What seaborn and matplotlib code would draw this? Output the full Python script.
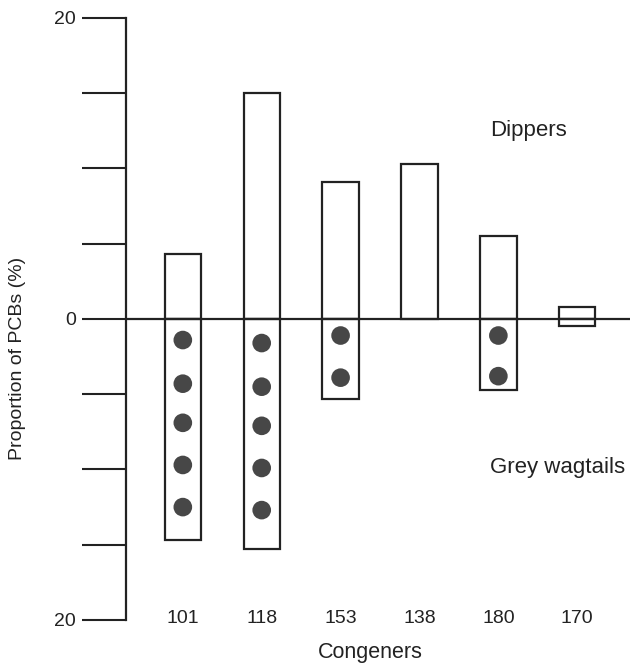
import pandas as pd
import seaborn as sns
import matplotlib.pyplot as plt

# Data (% of PCBs)
congeners = ["101", "118", "153", "138", "180", "170"]
dippers = [4.3, 15.0, 9.1, 10.3, 5.5, 0.8]
wagtails = [-14.7, -15.3, -5.3, 0.0, -4.7, -0.5]

# dot markers inside the grey wagtail bars
dot_congener = ["101"] * 5 + ["118"] * 5 + ["153"] * 2 + ["180"] * 2
dot_value = [-1.4, -4.3, -6.9, -9.7, -12.5,
             -1.6, -4.5, -7.1, -9.9, -12.7,
             -1.1, -3.9,
             -1.1, -3.8]

ink = "#222222"

sns.set_style("white")
plt.rcParams["font.family"] = ["Liberation Sans", "DejaVu Sans"]

fig = plt.figure(figsize=(6.32, 6.65), dpi=100)
ax = fig.add_axes([0.1994, 0.0677, 0.7976, 0.9053])

bars = pd.DataFrame({"Congener": congeners, "Dippers": dippers, "Wagtails": wagtails})
sns.barplot(data=bars, x="Congener", y="Dippers", order=congeners, color="white",
            edgecolor=ink, linewidth=1.6, width=0.46, ax=ax, zorder=2)
sns.barplot(data=bars, x="Congener", y="Wagtails", order=congeners, color="white",
            edgecolor=ink, linewidth=1.6, width=0.46, ax=ax, zorder=2)

# 138 has no wagtail bar: hide the zero-height patch
for p in ax.patches:
    if p.get_height() == 0:
        p.set_visible(False)

dots = pd.DataFrame({"x": [congeners.index(c) for c in dot_congener], "y": dot_value})
sns.scatterplot(data=dots, x="x", y="y", s=180, color="#474747", edgecolor="none",
                ax=ax, zorder=3, legend=False)

ax.axhline(0, color=ink, linewidth=1.6, zorder=4)

ax.set_xlim(-0.72, 5.67)
ax.set_ylim(-20, 20)

ax.set_yticks([-20, -15, -10, -5, 0, 5, 10, 15, 20])
ax.set_yticklabels(["20", "", "", "", "0", "", "", "", "20"], fontsize=14)
ax.tick_params(axis="y", direction="out", length=32, width=1.5, color=ink,
               left=True, pad=4, labelcolor=ink)
ax.set_xticks(range(len(congeners)))
ax.set_xticklabels(congeners, fontsize=14)
ax.tick_params(axis="x", length=0, pad=-7, labelcolor=ink)

for side in ["top", "right", "bottom"]:
    ax.spines[side].set_visible(False)
ax.spines["left"].set_color(ink)
ax.spines["left"].set_linewidth(1.6)

ax.set_xlabel("Congeners", fontsize=15.5, color=ink)
ax.set_ylabel("Proportion of PCBs (%)", fontsize=14, color=ink)
ax.xaxis.set_label_coords(0.484, -0.037)
ax.yaxis.set_label_coords(-0.198, 0.434)

ax.text(3.9, 12.5, "Dippers", fontsize=16, color=ink, va="center")
ax.text(3.9, -9.9, "Grey wagtails", fontsize=16, color=ink, va="center")

plt.savefig("out.png", dpi=100)
